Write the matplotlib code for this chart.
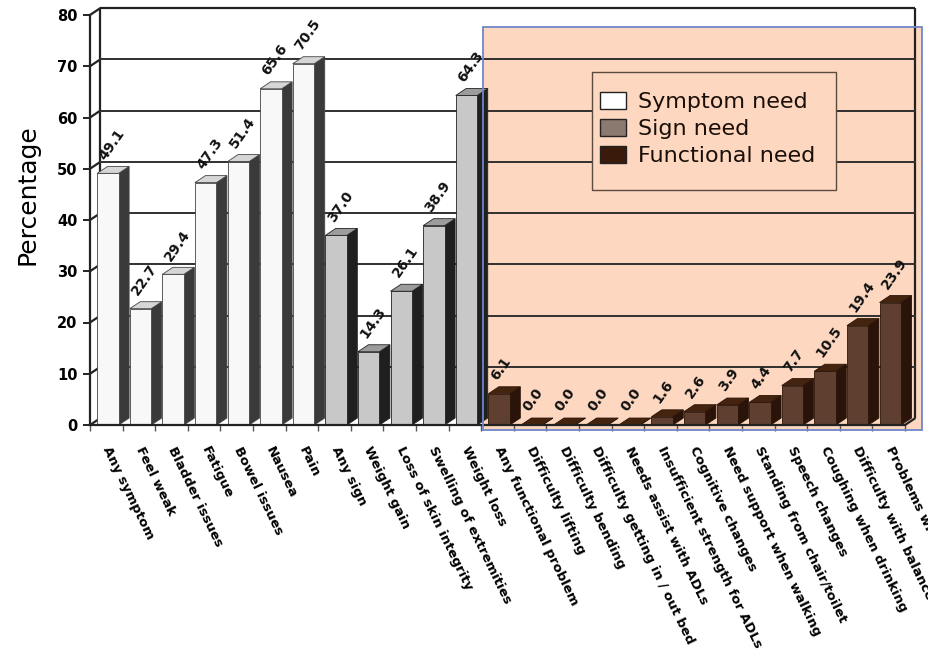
import matplotlib
matplotlib.use("Agg")
import matplotlib.pyplot as plt
from matplotlib.patches import Polygon, Rectangle, Patch

# ---- data -------------------------------------------------------------
symptom_labels = ["Any symptom", "Feel weak", "Bladder issues", "Fatigue",
                  "Bowel issues", "Nausea", "Pain"]
symptom_values = [49.1, 22.7, 29.4, 47.3, 51.4, 65.6, 70.5]

sign_labels = ["Any sign", "Weight gain", "Loss of skin integrity",
               "Swelling of extremities", "Weight loss"]
sign_values = [37.0, 14.3, 26.1, 38.9, 64.3]

functional_labels = ["Any functional problem", "Difficulty lifting",
                     "Difficulty bending", "Difficulty getting in / out bed",
                     "Needs assist with ADLs", "Insufficient strength for ADLs",
                     "Cognitive changes", "Need support when walking",
                     "Standing from chair/toilet", "Speech changes",
                     "Coughing when drinking", "Difficulty with balance",
                     "Problems with mobility"]
functional_values = [6.1, 0.0, 0.0, 0.0, 0.0, 1.6, 2.6, 3.9, 4.4, 7.7,
                     10.5, 19.4, 23.9]

y_ticks = [0, 10, 20, 30, 40, 50, 60, 70, 80]

# ---- styling ------------------------------------------------------------
series = [
    ("Symptom need", symptom_labels, symptom_values,
     dict(front="#f8f8f8", side="#3a3a3a", top="#d6d6d6", edge="#444444",
          key="#ffffff")),
    ("Sign need", sign_labels, sign_values,
     dict(front="#c8c8c8", side="#1f1f1f", top="#9c9c9c", edge="#222222",
          key="#8a7a70")),
    ("Functional need", functional_labels, functional_values,
     dict(front="#5f4030", side="#2a1308", top="#45240f", edge="#2a1408",
          key="#3a1a0a")),
]

DX, DY = 0.32, 1.36          # 3-D depth offset (x units, y units)
BAR_OFF, BAR_W = 0.22, 0.66  # bar front face inside each category slot
ORANGE = "#fdd7bf"

fig = plt.figure(figsize=(9.29, 6.56), dpi=100)
ax = fig.add_axes([90 / 929, (656 - 425) / 656, 815 / 929, 410 / 656])

labels = [l for _, ls, _, _ in series for l in ls]
n = len(labels)
ax.set_xlim(0, n)
ax.set_ylim(0, 80)
ax.set_facecolor("none")

line_kw = dict(color="#222222", lw=1.6, clip_on=False, solid_capstyle="butt")

# back wall, side wall and floor outline
ax.plot([DX, DX], [DY, 80 + DY], zorder=2, **line_kw)
ax.plot([DX, n + DX], [80 + DY, 80 + DY], zorder=2, **line_kw)
ax.plot([n + DX, n + DX], [DY, 80 + DY], zorder=2, **line_kw)
ax.plot([n, n + DX], [0, DY], zorder=2, **line_kw)
for t in y_ticks:
    ax.plot([0, DX], [t, t + DY], zorder=2, **line_kw)
    if 0 < t < 80:
        ax.plot([DX, n + DX], [t + DY, t + DY], zorder=2,
                color="#303030", lw=1.4, clip_on=False)

# highlighted functional-need panel
panel_x0, panel_x1 = 12.06, 25.52
panel_y0, panel_y1 = -0.97, 77.6
ax.add_patch(Rectangle((panel_x0, panel_y0), panel_x1 - panel_x0,
                       panel_y1 - panel_y0, facecolor=ORANGE,
                       edgecolor="none", zorder=1, clip_on=False))

# bars
i = 0
for name, ls, vals, st in series:
    for v in vals:
        x0 = i + BAR_OFF
        x1 = x0 + BAR_W
        ax.add_patch(Polygon([(x1, 0), (x1 + DX, DY), (x1 + DX, v + DY), (x1, v)],
                             closed=True, facecolor=st["side"],
                             edgecolor=st["edge"], lw=0.6, zorder=3,
                             clip_on=False))
        ax.add_patch(Polygon([(x0, v), (x1, v), (x1 + DX, v + DY), (x0 + DX, v + DY)],
                             closed=True, facecolor=st["top"],
                             edgecolor=st["edge"], lw=0.6, zorder=3,
                             clip_on=False))
        ax.add_patch(Rectangle((x0, 0), BAR_W, v, facecolor=st["front"],
                               edgecolor=st["edge"], lw=0.6, zorder=3,
                               clip_on=False))
        ax.text(i + 0.55, v + DY + 0.8, f"{v:.1f}", rotation=55,
                rotation_mode="anchor", ha="left", va="bottom",
                fontsize=10, fontweight="bold", color="#111111", zorder=5)
        i += 1

ax.add_patch(Rectangle((panel_x0, panel_y0), panel_x1 - panel_x0,
                       panel_y1 - panel_y0, facecolor="none",
                       edgecolor="#6f86c9", lw=1.3, zorder=6, clip_on=False))

# axes, ticks and labels
for s in ("top", "right"):
    ax.spines[s].set_visible(False)
for s in ("left", "bottom"):
    ax.spines[s].set_linewidth(1.6)
    ax.spines[s].set_color("#222222")
    ax.spines[s].set_zorder(4)

ax.set_yticks(y_ticks)
ax.set_yticklabels([str(t) for t in y_ticks], fontsize=10.5, fontweight="bold")
ax.tick_params(axis="y", length=5, width=1.4, pad=4, color="#222222")

ax.set_xticks([k + 0.5 for k in range(n)])
ax.set_xticks(list(range(n + 1)), minor=True)
ax.set_xticklabels(labels, rotation=-64, rotation_mode="anchor",
                   ha="left", va="center", fontsize=9.5, fontweight="bold")
ax.tick_params(axis="x", which="major", length=0, pad=16)
ax.tick_params(axis="x", which="minor", length=4, width=1.0, color="#555555")

ax.set_ylabel("Percentage", fontsize=18)
ax.yaxis.set_label_coords(-0.062, 0.561)

# legend: frame box plus entries
box_x0, box_x1 = (592 - 90) / 815, (836 - 90) / 815
box_y0, box_y1 = (425 - 190) / 410, (425 - 72) / 410
ax.add_patch(Rectangle((box_x0, box_y0), box_x1 - box_x0, box_y1 - box_y0,
                       transform=ax.transAxes, facecolor=ORANGE,
                       edgecolor="#5a4a40", lw=1.0, zorder=4.5, clip_on=False))
handles = [Patch(facecolor=st["key"], edgecolor="#222222", label=name)
           for name, _, _, st in series]
leg = ax.legend(handles=handles, loc="upper left",
                bbox_to_anchor=((600 - 90) / 815, (425 - 92) / 410),
                fontsize=16, frameon=False, borderpad=0, borderaxespad=0,
                labelspacing=0.3, handlelength=1.15, handleheight=0.8,
                handletextpad=0.55)
leg.set_zorder(5)
for t in leg.get_texts():
    t.set_color("#1a0f08")

fig.savefig("out.png", dpi=100)
